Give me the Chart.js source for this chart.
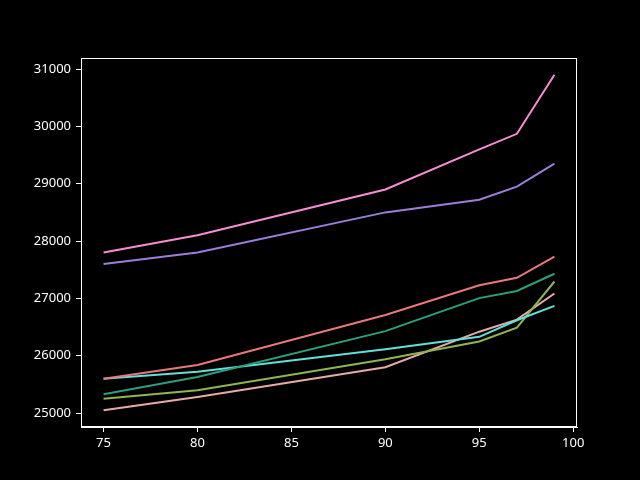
<!DOCTYPE html>
<html><head><meta charset="utf-8">
<script src="https://cdn.jsdelivr.net/npm/chart.js@4/dist/chart.umd.min.js"></script>
<style>html,body{margin:0;padding:0;background:#000;}canvas{display:block;}</style>
</head><body>
<canvas id="c" width="640" height="480"></canvas>
<script>
const xValues = [75, 80, 90, 95, 97, 99];
const pinkSeries   = [27800, 28100, 28900, 29600, 29870, 30900];
const purpleSeries = [27600, 27800, 28500, 28720, 28950, 29350];
const redSeries    = [25600, 25840, 26710, 27230, 27360, 27730];
const tealSeries   = [25330, 25630, 26430, 27005, 27130, 27430];
const cyanSeries   = [25600, 25720, 26115, 26330, 26620, 26870];
const oliveSeries  = [25250, 25400, 25940, 26250, 26490, 27295];
const roseSeries   = [25050, 25280, 25800, 26420, 26630, 27085];
const xTicks = [75, 80, 85, 90, 95, 100];
const yTicks = [25000, 26000, 27000, 28000, 29000, 30000, 31000];

const seriesList = [
  {data: redSeries, color: '#e8787a'},
  {data: tealSeries, color: '#2ba07e'},
  {data: cyanSeries, color: '#62e0d8'},
  {data: oliveSeries, color: '#8fb550'},
  {data: roseSeries, color: '#e8aaa8'},
  {data: purpleSeries, color: '#9d7ddb'},
  {data: pinkSeries, color: '#f78ed4'}
];

const boxPlugin = {
  id: 'box',
  afterDraw(chart) {
    const {ctx, chartArea: a} = chart;
    ctx.save();
    ctx.strokeStyle = '#ffffff';
    ctx.lineWidth = 1;
    ctx.strokeRect(a.left + 0.5, a.top + 0.5, a.right - a.left - 1, a.bottom - a.top - 1);
    ctx.restore();
  }
};

new Chart(document.getElementById('c'), {
  type: 'line',
  data: {
    datasets: seriesList.map(s => ({
      data: xValues.map((x, i) => ({x: x, y: s.data[i]})),
      borderColor: s.color,
      borderWidth: 2,
      pointRadius: 0,
      tension: 0,
      fill: false
    }))
  },
  options: {
    responsive: false,
    animation: false,
    layout: {padding: {left: 0, top: 58, right: 63, bottom: 0}},
    plugins: {legend: {display: false}, tooltip: {enabled: false}},
    scales: {
      x: {
        type: 'linear',
        min: 73.8, max: 100.2,
        afterBuildTicks: ax => { ax.ticks = xTicks.map(v => ({value: v})); },
        afterFit: ax => { ax.height = 53; },
        grid: {display: true, drawOnChartArea: false, color: '#ffffff', tickLength: 5, tickWidth: 1},
        border: {display: true, color: '#ffffff', width: 1},
        ticks: {color: '#ffffff', font: {family: 'Noto Sans', size: 13}, padding: 3, maxRotation: 0}
      },
      y: {
        type: 'linear',
        min: 24758, max: 31192,
        afterBuildTicks: ax => { ax.ticks = yTicks.map(v => ({value: v})); },
        afterFit: ax => { ax.width = 81; },
        grid: {display: true, drawOnChartArea: false, color: '#ffffff', tickLength: 5, tickWidth: 1},
        border: {display: true, color: '#ffffff', width: 1},
        ticks: {color: '#ffffff', font: {family: 'Noto Sans', size: 13}, padding: 5, callback: v => String(v)}
      }
    }
  },
  plugins: [boxPlugin]
});
</script>
</body></html>
